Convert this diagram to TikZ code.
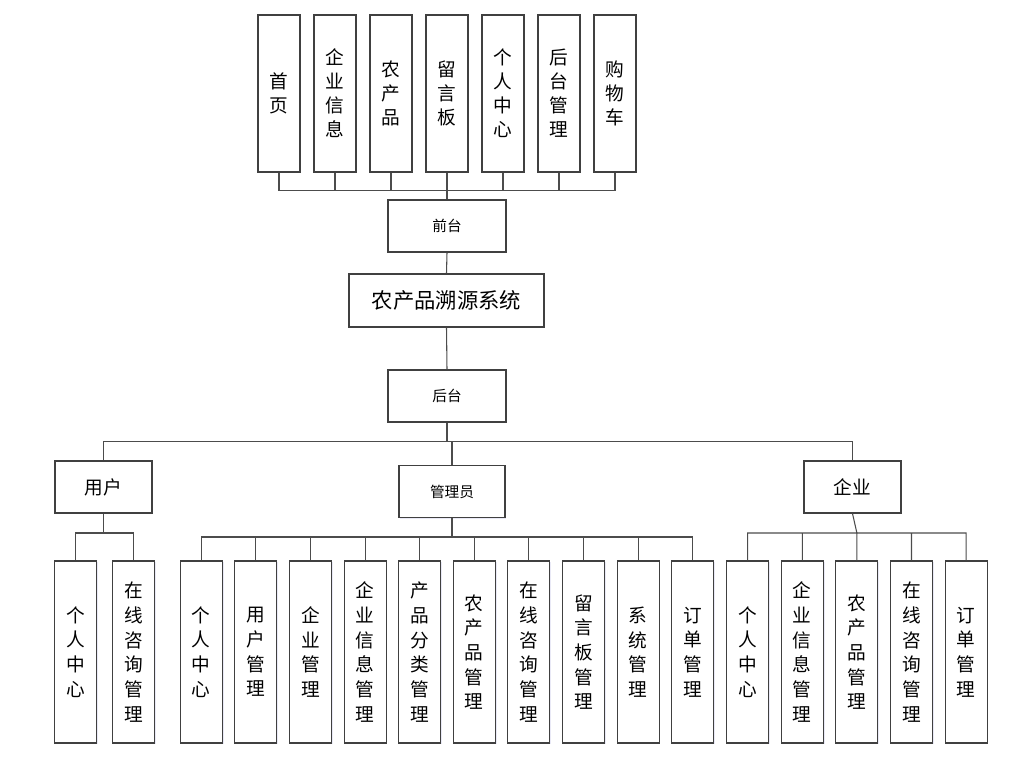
\documentclass[tikz,border=0pt]{standalone}
\usepackage{fontspec}
\setmainfont{Noto Sans CJK SC}
\usetikzlibrary{shadows}

\begin{document}
\begin{tikzpicture}[x=0.75pt, y=-0.75pt,
    box/.style={draw=black!75, fill=white, line width=0.8pt, inner sep=0pt, align=center,
        drop shadow={shadow xshift=1pt, shadow yshift=-1pt, opacity=0.12, fill=blue!40!gray}},
    topcol/.style={box, minimum width=31.5pt, minimum height=117.75pt, font=\fontsize{14}{18}\selectfont},
    botcol/.style={box, minimum width=31.5pt, minimum height=136.5pt, font=\fontsize{14}{18.5}\selectfont},
    link/.style={draw=black!70, line width=0.8pt}]
    \useasboundingbox (0,0) rectangle (1022,757);

    % front end
    \node[topcol] (t1) at (279,93.5) {首\\页};
    \node[topcol] (t2) at (335,93.5) {企\\业\\信\\息};
    \node[topcol] (t3) at (391,93.5) {农\\产\\品};
    \node[topcol] (t4) at (447,93.5) {留\\言\\板};
    \node[topcol] (t5) at (503,93.5) {个\\人\\中\\心};
    \node[topcol] (t6) at (559,93.5) {后\\台\\管\\理};
    \node[topcol] (t7) at (615,93.5) {购\\物\\车};
    \node[box, minimum width=88.5pt, minimum height=39pt, font=\fontsize{11}{13}\selectfont] (qt) at (447,226) {前台};

    \node[box, minimum width=146.25pt, minimum height=39.75pt, font=\fontsize{16}{19}\selectfont] (sys) at (446.5,300.5) {农产品溯源系统};

    % back end
    \node[box, minimum width=88.5pt, minimum height=39pt, font=\fontsize{11}{13}\selectfont] (ht) at (447,396) {后台};
    \node[box, minimum width=72.75pt, minimum height=39pt, font=\fontsize{14}{16}\selectfont] (yh) at (103.5,487) {用户};
    \node[box, minimum width=79.5pt, minimum height=39pt, font=\fontsize{11}{13}\selectfont] (gl) at (452,491.5) {管理员};
    \node[box, minimum width=72.75pt, minimum height=39pt, font=\fontsize{14}{16}\selectfont] (qy) at (852.5,487) {企业};

    \node[botcol] (u1) at (75.7,652) {个\\人\\中\\心};
    \node[botcol] (u2) at (133.7,652) {在\\线\\咨\\询\\管\\理};

    \node[botcol] (a1) at (201.3,652) {个\\人\\中\\心};
    \node[botcol] (a2) at (255.9,652) {用\\户\\管\\理};
    \node[botcol] (a3) at (310.5,652) {企\\业\\管\\理};
    \node[botcol] (a4) at (365.1,652) {企\\业\\信\\息\\管\\理};
    \node[botcol] (a5) at (419.7,652) {产\\品\\分\\类\\管\\理};
    \node[botcol] (a6) at (474.3,652) {农\\产\\品\\管\\理};
    \node[botcol] (a7) at (528.9,652) {在\\线\\咨\\询\\管\\理};
    \node[botcol] (a8) at (583.5,652) {留\\言\\板\\管\\理};
    \node[botcol] (a9) at (638.1,652) {系\\统\\管\\理};
    \node[botcol] (a10) at (692.7,652) {订\\单\\管\\理};

    \node[botcol] (e1) at (747.7,652) {个\\人\\中\\心};
    \node[botcol] (e2) at (802.3,652) {企\\业\\信\\息\\管\\理};
    \node[botcol] (e3) at (856.9,652) {农\\产\\品\\管\\理};
    \node[botcol] (e4) at (911.5,652) {在\\线\\咨\\询\\管\\理};
    \node[botcol] (e5) at (966.1,652) {订\\单\\管\\理};

    % bus points
    \coordinate (topbus) at (447,190.7);
    \coordinate (mainbus) at (447,441.5);
    \coordinate (yhbus) at (103.5,533);
    \coordinate (glbus) at (452,537);
    \coordinate (qybus) at (856.9,533);

    \draw[link] (qt.north) -- (topbus)
        (topbus) -| (t1.south) (topbus) -| (t2.south) (topbus) -| (t3.south) (topbus) -- (t4.south)
        (topbus) -| (t5.south) (topbus) -| (t6.south) (topbus) -| (t7.south);
    \draw[link] (qt.south) -- (sys.north)
          (sys.south) -- (ht.north);
    \draw[link] (ht.south) -- (mainbus)
        (mainbus) -| (yh.north) (mainbus) -| (gl.north) (mainbus) -| (qy.north);
    \draw[link] (yh.south) -- (yhbus)
        (yhbus) -| (u1.north) (yhbus) -| (u2.north);
    \draw[link] (gl.south) -- (glbus)
        (glbus) -| (a1.north) (glbus) -| (a2.north) (glbus) -| (a3.north) (glbus) -| (a4.north)
        (glbus) -| (a5.north) (glbus) -| (a6.north) (glbus) -| (a7.north) (glbus) -| (a8.north)
        (glbus) -| (a9.north) (glbus) -| (a10.north);
    \draw[link] (qy.south) -- (qybus)
        (qybus) -| (e1.north) (qybus) -| (e2.north) (qybus) -- (e3.north)
        (qybus) -| (e4.north) (qybus) -| (e5.north);
\end{tikzpicture}
\end{document}
